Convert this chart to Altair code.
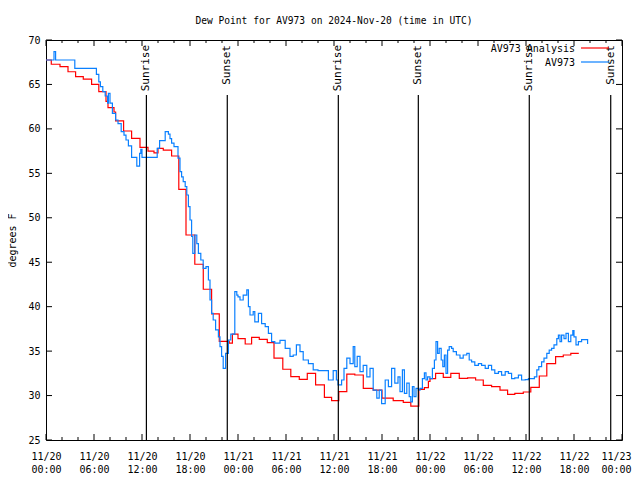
import altair as alt
import pandas as pd

BASE_MS = int(pd.Timestamp("2024-11-20T00:00:00Z").timestamp() * 1000)
HOUR_MS = 3600 * 1000

# AV973 Analysis (red) : hours since 2024-11-20 00:00 UTC, dew point degF
red_hours = [0, 0.66, 1.75, 2.75, 3.7, 4.66, 5.7, 6.6, 7.5, 7.75, 8.5, 8.7, 9.7, 10.7,
             11.75, 12.75, 13.5, 14.0, 14.66, 15.7, 16.6, 17.5, 18.6, 19.66, 20.7, 21.66,
             22.9, 23.3, 24.0, 24.9, 25.7, 26.66, 27.66, 28.5, 29.6, 30.6, 31.66, 32.66,
             33.7, 34.8, 35.7, 36.6, 37.6, 38.6, 39.66, 40.9, 42.0, 43.4, 44.66, 45.6,
             46.6, 47.3, 47.8, 48.0, 48.7, 49.66, 50.6, 51.66, 52.7, 53.7, 54.66, 55.7,
             56.75, 57.7, 58.6, 59.66, 60.6, 61.66, 62.6, 63.7, 64.66, 65.6, 66.6]
red_vals = [67.75, 67.27, 67.0, 66.43, 65.87, 65.6, 65.0, 64.2, 63.1, 62.4, 61.9, 60.9, 59.76, 58.94,
            57.93, 57.5, 57.3, 57.8, 57.6, 56.95, 53.2, 48.06, 44.77, 41.96, 39.2, 36.1,
            35.9, 36.9, 36.4, 35.8, 36.55, 36.33, 35.95, 34.2, 32.96, 32.12, 31.83, 32.5,
            31.2, 29.8, 29.42, 30.44, 32.4, 32.31, 30.81, 30.6, 29.7, 29.42, 29.24, 28.8,
            30.7, 30.9, 31.6, 31.9, 32.5, 32.05, 32.5, 31.94, 32.0, 31.75, 31.15, 31.0,
            30.6, 30.14, 30.25, 30.4, 30.93, 32.2, 33.6, 34.37, 34.56, 34.75, 34.75]

# AV973 observations (blue)
blue_hours = [0, 1.0, 1.2, 3.6, 6.3, 6.6, 6.8, 7.1, 7.4, 7.7, 7.8, 8.0, 8.3, 8.7, 9.0, 9.4,
              9.75, 10.0, 10.3, 10.7, 11.35, 11.7, 11.85, 12.0, 13.9, 14.2, 14.9, 15.0, 15.3,
              15.5, 15.7, 16.0, 16.5, 16.75, 16.95, 17.15, 17.4, 17.6, 17.8, 18.0, 18.2,
              18.35, 18.6, 18.85, 19.05, 19.35, 19.65, 20.0, 20.3, 20.5, 20.7, 20.9, 21.2,
              21.55, 21.75, 21.95, 22.15, 22.45, 22.8, 23.1, 23.4, 23.6, 23.85, 24.0, 24.25,
              24.65, 25.1, 25.3, 25.5, 25.9, 26.1, 26.55, 26.95, 27.4, 27.8, 28.2, 28.6,
              29.25, 29.9, 30.5, 30.9, 31.3, 31.75, 32.15, 32.8, 33.4, 34.0, 34.7, 35.3,
              35.9, 36.3, 36.5, 36.95, 37.25, 37.6, 38.0, 38.4, 38.6, 38.9, 39.25, 39.65,
              40.1, 40.5, 40.9, 41.35, 41.65, 41.95, 42.4, 42.8, 43.2, 43.6, 44.0, 44.25,
              44.55, 44.8, 45.1, 45.4, 45.6, 45.8, 46.0, 46.25, 46.55, 46.75, 47.05, 47.3,
              47.5, 47.7, 48.0, 48.3, 48.55, 48.75, 48.95, 49.15, 49.4, 49.6, 49.8, 50.0,
              50.2, 50.4, 50.7, 50.9, 51.3, 51.75, 52.15, 52.6, 52.9, 53.2, 53.6, 54.05,
              54.45, 54.9, 55.3, 55.7, 56.1, 56.55, 56.95, 57.4, 57.8, 58.2, 58.6, 59.05,
              59.45, 59.9, 60.3, 60.7, 61.05, 61.35, 61.6, 61.95, 62.25, 62.6, 62.9, 63.2,
              63.5, 63.85, 64.05, 64.25, 64.45, 64.75, 65.0, 65.3, 65.6, 65.85, 66.0, 66.25,
              66.55, 66.95, 67.4, 67.7]
blue_vals = [67.75, 68.7, 67.75, 66.8, 66.14, 65.3, 64.75, 64.2, 63.7, 62.9, 64.0, 62.9, 61.75, 61.0, 60.6, 59.7,
             59.3, 58.75, 58.1, 56.8, 55.8, 57.25, 57.7, 56.8, 57.8, 58.67, 59.7, 59.7, 59.4,
             58.9, 58.4, 58.0, 56.7, 55.2, 54.6, 54.06, 53.5, 52.56, 51.25, 49.75, 47.9,
             46.0, 48.06, 47.1, 46.0, 45.25, 44.3, 44.5, 43.0, 40.75, 39.25, 38.5, 37.4,
             36.6, 35.5, 34.4, 33.06, 34.75, 36.25, 36.9, 36.9, 41.7, 41.3, 41.1, 40.75,
             41.3, 41.9, 40.0, 39.06, 39.44, 38.3, 39.25, 38.1, 37.75, 37.0, 36.06, 35.9,
             36.2, 35.3, 34.4, 34.56, 35.7, 34.94, 34.0, 33.6, 32.9, 32.8, 32.8, 31.75,
             32.8, 31.75, 31.2, 31.75, 33.06, 34.2, 33.6, 35.5, 33.25, 34.4, 32.7, 33.4,
             32.1, 33.06, 30.6, 29.7, 30.6, 29.1, 31.75, 31.0, 33.06, 31.4, 32.1, 30.44,
             32.9, 30.25, 31.4, 29.87, 29.3, 31.0, 29.87, 30.8, 30.6, 30.8, 31.9, 32.56,
             31.75, 32.1, 31.9, 33.06, 34.0, 36.06, 34.75, 35.3, 34.0, 33.25, 34.56, 32.5,
             35.1, 35.5, 35.3, 34.94, 34.56, 34.2, 34.56, 34.75, 34.0, 33.8, 33.4, 33.6,
             33.4, 33.06, 33.4, 32.9, 32.5, 32.7, 32.3, 32.7, 32.5, 31.9, 32.0, 32.3,
             31.75, 31.8, 31.9, 31.9, 32.1, 32.9, 33.25, 33.8, 34.2, 34.75, 35.1, 35.3,
             35.7, 36.4, 36.8, 36.06, 36.8, 36.4, 37.0, 36.06, 36.8, 37.3, 36.6, 35.7,
             36.06, 36.3, 36.3, 35.8]

# Sunrise / sunset markers (hours since start)
sun_labels = ["Sunrise", "Sunset", "Sunrise", "Sunset", "Sunrise", "Sunset"]
sun_hours = [12.55, 22.66, 36.54, 46.54, 60.41, 70.59]

# Axis ticks
y_ticks = [25, 30, 35, 40, 45, 50, 55, 60, 65, 70]
x_major_hours = [0, 6, 12, 18, 24, 30, 36, 42, 48, 54, 60, 66, 72]
x_minor_hours = [2, 4, 8, 10, 14, 16, 20, 22, 26, 28, 32, 34, 38, 40, 44, 46, 50, 52, 56, 58, 62, 64, 68, 70]

legend_labels = ["AV973 Analysis", "AV973"]
legend_colors = ["#ff0000", "#0a80ff"]

W, H = 576, 400
FONT = "DejaVu Sans Mono"


def ms(h):
    return [BASE_MS + int(round(v * HOUR_MS)) for v in h]


red_df = pd.DataFrame({"t": ms(red_hours), "v": red_vals})
blue_df = pd.DataFrame({"t": ms(blue_hours), "v": blue_vals})
sun_df = pd.DataFrame({"t": ms(sun_hours), "label": sun_labels})
major_df = pd.DataFrame({"t": ms(x_major_hours)})
minor_df = pd.DataFrame({"t": ms(x_minor_hours)})
yt_df = pd.DataFrame({"v": y_ticks})

END_MS = BASE_MS + 72 * HOUR_MS
xscale = alt.Scale(type="utc", domain=[BASE_MS, END_MS], nice=False)
yscale = alt.Scale(domain=[25, 70], nice=False, zero=False)

x_axis = alt.Axis(
    values=ms(x_major_hours),
    labelExpr="[utcFormat(datum.value, '%m/%d'), utcFormat(datum.value, '%H:%M')]",
    ticks=False, domain=False, grid=False, title=None,
    labelFont=FONT, labelFontSize=10, labelColor="black", labelPadding=11,
    labelLineHeight=13, labelFlush=False, labelOverlap=False,
    labelOffset={"condition": {"test": f"datum.value >= {END_MS}", "value": -6}, "value": 0},
)
y_axis = alt.Axis(
    values=y_ticks, ticks=False, domain=False, grid=False,
    labelFont=FONT, labelFontSize=10, labelColor="black", labelPadding=6,
    title="degrees F", titleFont=FONT, titleFontSize=10, titleFontWeight="normal",
    titleColor="black", titlePadding=10,
)


def X(field="t"):
    return alt.X(f"{field}:T", scale=xscale, axis=x_axis)


def Y(field="v"):
    return alt.Y(f"{field}:Q", scale=yscale, axis=y_axis)


red = alt.Chart(red_df).mark_line(interpolate="step-after", color="#ff0000", strokeWidth=1.2).encode(
    x=X(), y=Y(),
)
blue = alt.Chart(blue_df).mark_line(interpolate="step-after", color="#0a80ff", strokeWidth=1.2).encode(
    x=X(), y=Y(),
)

sun_rules = alt.Chart(sun_df).mark_rule(color="black", strokeWidth=1.2).encode(
    x=X(), y=alt.value(55), y2=alt.value(H),
)
sun_text = alt.Chart(sun_df).mark_text(
    angle=270, align="right", baseline="middle", font=FONT, fontSize=11, color="black"
).encode(
    x=X(), y=alt.value(5), text="label:N",
)


def xticks(df, y0, y1):
    return alt.Chart(df).mark_rule(color="black", strokeWidth=1).encode(
        x=X(), y=alt.value(y0), y2=alt.value(y1)
    )


def yticks(x0, x1):
    return alt.Chart(yt_df).mark_rule(color="black", strokeWidth=1).encode(
        y=Y(), x=alt.value(x0), x2=alt.value(x1)
    )


tick_layers = [
    xticks(major_df, H, H - 6), xticks(minor_df, H, H - 3),
    xticks(major_df, 0, 6), xticks(minor_df, 0, 3),
    yticks(0, 6), yticks(W - 6, W),
]

leg_layers = []
for i, (lab, col) in enumerate(zip(legend_labels, legend_colors)):
    one = pd.DataFrame({"label": [lab], "color": [col]})
    yy = 9 + 14 * i
    leg_layers.append(
        alt.Chart(one).mark_text(align="right", baseline="middle", font=FONT, fontSize=10, color="black").encode(
            x=alt.value(529), y=alt.value(yy), text="label:N"
        )
    )
    leg_layers.append(
        alt.Chart(one).mark_rule(color=col, strokeWidth=1.2).encode(
            x=alt.value(535), x2=alt.value(563), y=alt.value(yy - 1)
        )
    )

chart = alt.layer(red, blue, sun_rules, sun_text, *tick_layers, *leg_layers).properties(
    width=W, height=H,
    title=alt.TitleParams(
        "Dew Point for AV973 on 2024-Nov-20 (time in UTC)",
        font=FONT, fontSize=9.6, fontWeight="normal", color="black", anchor="middle", offset=9,
    ),
    autosize=alt.AutoSizeParams(type="none"),
    padding={"left": 38, "top": 32, "right": 10, "bottom": 38},
    background="white",
).configure_view(stroke="black", strokeWidth=1)

chart.save("out.html", embed_options={"renderer": "svg", "actions": False})
